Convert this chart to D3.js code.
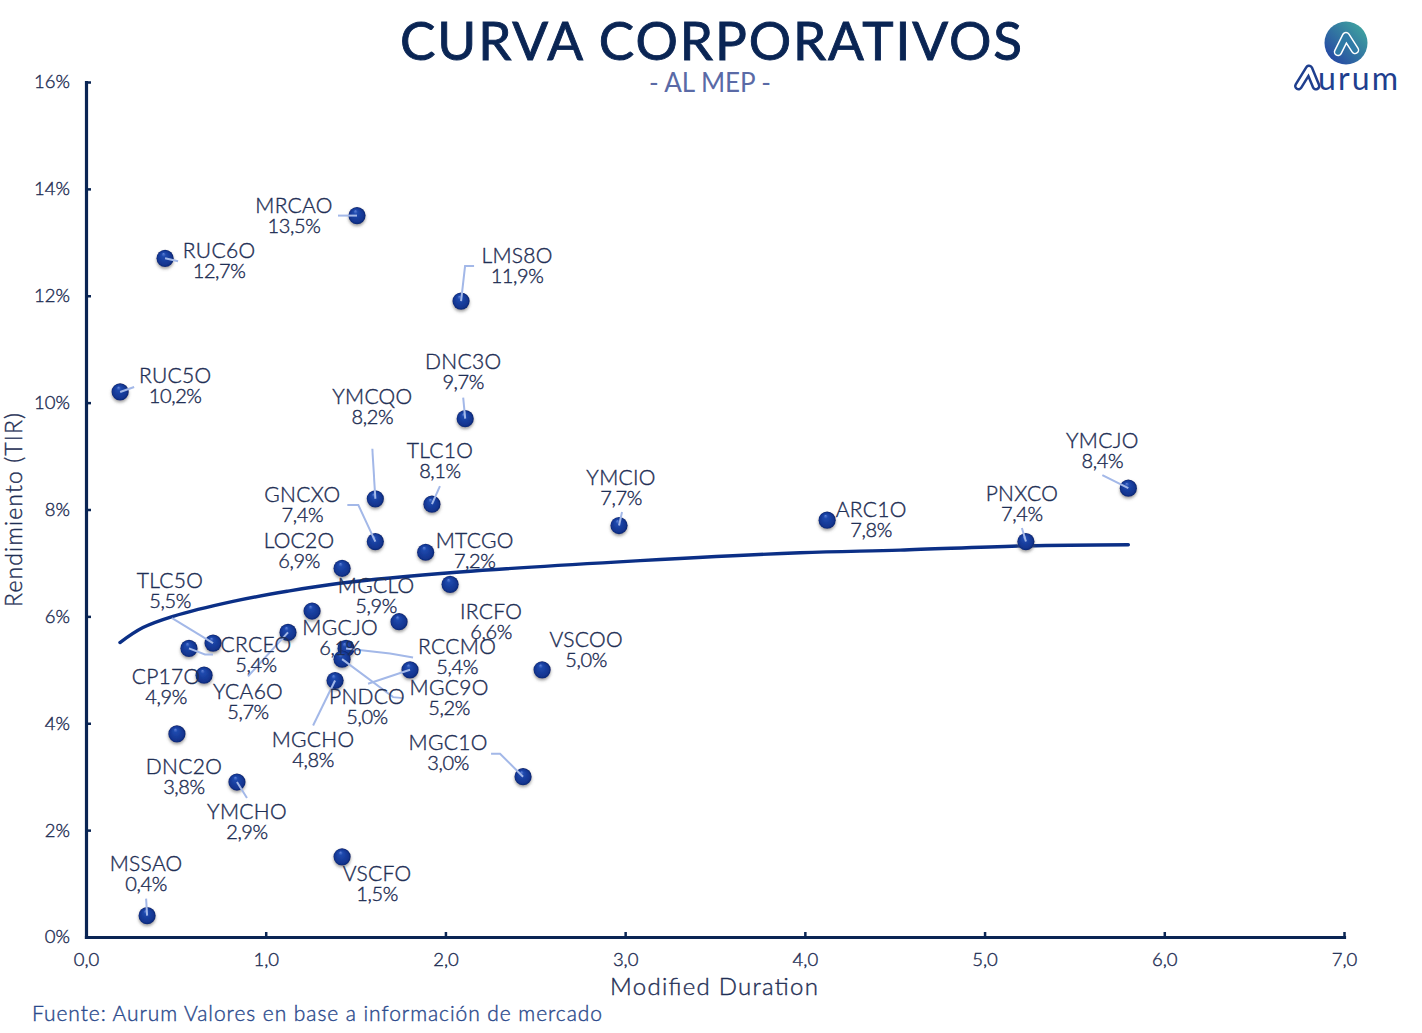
<!DOCTYPE html>
<html lang="es">
<head>
<meta charset="utf-8">
<script src="https://cdn.jsdelivr.net/npm/d3@7"></script>
<style>
  html, body { margin: 0; padding: 0; background: #fff; }
  svg { display: block; font-family: Lato, "Open Sans", sans-serif; }
</style>
</head>
<body>
<svg id="chart" width="1422" height="1033"></svg>
<script>
// Bonds: ticker, modified duration and yield (%)
const tickers = ["MRCAO","RUC6O","LMS8O","RUC5O","DNC3O","YMCQO","TLC1O","YMCIO","ARC1O","PNXCO","YMCJO","GNCXO","MTCGO","LOC2O","IRCFO","MGCLO","MGCJO","YCA6O","TLC5O","CRCEO","CP17O","DNC2O","YMCHO","RCCMO","MGC9O","PNDCO","MGCHO","VSCOO","MGC1O","VSCFO","MSSAO"];
const durations = [1.508,0.44,2.087,0.19,2.11,1.61,1.925,2.966,4.124,5.23,5.80,1.61,1.89,1.425,2.026,1.742,1.258,1.124,0.707,0.573,0.657,0.506,0.84,1.447,1.425,1.803,1.386,2.538,2.432,1.425,0.34];
const yields = [13.5,12.7,11.9,10.2,9.7,8.2,8.1,7.7,7.8,7.4,8.4,7.4,7.2,6.9,6.6,5.9,6.1,5.7,5.5,5.4,4.9,3.8,2.9,5.4,5.2,5.0,4.8,5.0,3.0,1.5,0.4];

// Fitted curve as read along its length
const curveDurations = [0.189,0.317,0.484,0.818,1.119,1.413,2.081,2.966,3.973,4.53,5.23,5.80];
const curveYields = [5.51,5.79,6.0,6.28,6.47,6.62,6.83,7.02,7.19,7.24,7.32,7.34];

const xTicks = [0,1,2,3,4,5,6,7];
const yTicks = [0,2,4,6,8,10,12,14,16];

// Label placement, in pixels from each mark, kept in ticker order
const labelOffsets = [[-63,-10],[54,-8],[56,-46],[55,-16],[-2,-57],[-3,-102],[8,-54],[2,-48.5],[44,-11],[-4,-48.5],[-26,-48],[-73,-47.5],[49,-12],[-43,-28],[41,27],[-23,-36],[28,16],[-40,59],[-43,-63],[67,-4],[-38,1],[7,33],[10,29],[111,-2],[107,28],[-43,27],[-22,59],[44,-30],[-75,-34],[35,17],[-1,-52]];
const leaderBends = [[[-19,0]],[[13,3]],[[13,-35],[4,-35]],[[14,-5]],[[-2,-21]],[[-3,-50]],[[8,-18]],[[3,-13.5]],[],[[-4,-13.5]],[[-26,-13]],[[-28,-36.5],[-17,-36.5]],[],[],[],[],[],[[-40,44]],[[-41,-25]],[[24,6],[16,6]],[],[],[[10,16]],[[67,9],[44,5]],[[61,39],[51,38]],[[-42,14]],[[-22,45]],[],[[-32,-23],[-23,-23]],[],[[-1,-17]]];

const navy = "#0a2554", ink = "#1f2f55", lineBlue = "#0b2f86", leaderBlue = "#a3b8e8";

const svg = d3.select("#chart");
const defs = svg.append("defs");

// Glossy sphere fill for the markers
const ball = defs.append("radialGradient").attr("id","ball")
  .attr("cx","50%").attr("cy","55%").attr("r","55%").attr("fx","40%").attr("fy","22%");
[[0,"#5f82d8"],[0.22,"#1f49ad"],[0.75,"#12348f"],[1,"#0a1f5e"]].forEach(([o,c]) =>
  ball.append("stop").attr("offset",o).attr("stop-color",c));
const shadow = defs.append("filter").attr("id","ballShadow")
  .attr("x","-50%").attr("y","-50%").attr("width","200%").attr("height","200%");
shadow.append("feDropShadow").attr("dx",0).attr("dy",2).attr("stdDeviation",1.8)
  .attr("flood-color","#555").attr("flood-opacity",0.55);

const logoFill = defs.append("linearGradient").attr("id","logoFill")
  .attr("x1","10%").attr("y1","90%").attr("x2","90%").attr("y2","10%");
logoFill.append("stop").attr("offset",0).attr("stop-color","#2546a4");
logoFill.append("stop").attr("offset",1).attr("stop-color","#3fa39f");

const x = d3.scaleLinear().domain([0,7]).range([86,1344]);
const y = d3.scaleLinear().domain([0,16]).range([937,82]);
const decimal = d3.formatLocale({decimal:",",thousands:".",grouping:[3],currency:["$",""]});

// Light type thickened a touch for the labels and axes
const thin = sel => sel.attr("font-weight",300).attr("stroke",ink).attr("stroke-width",0.4);

// Axes with short inward ticks
const xAxis = svg.append("g").attr("transform",`translate(0,${y(0)})`)
  .call(d3.axisBottom(x).tickValues(xTicks).tickFormat(decimal.format(".1f")).tickSize(-5).tickPadding(16).tickSizeOuter(0));
const yAxis = svg.append("g").attr("transform",`translate(${x(0)},0)`)
  .call(d3.axisLeft(y).tickValues(yTicks).tickFormat(d => d + "%").tickSize(-5).tickPadding(16).tickSizeOuter(0));
[xAxis,yAxis].forEach(a => {
  a.select(".domain").attr("stroke",navy).attr("stroke-width",3.2).attr("stroke-linecap","square");
  a.selectAll(".tick line").attr("stroke",navy).attr("stroke-width",2.5);
  a.selectAll(".tick text").attr("fill",ink).attr("font-family","Lato, sans-serif").attr("font-size",18.5).call(thin);
});

// Fitted curve
const curvePoints = d3.zip(curveDurations,curveYields);
svg.append("path").datum(curvePoints)
  .attr("fill","none").attr("stroke",lineBlue).attr("stroke-width",3.4).attr("stroke-linecap","round")
  .attr("d",d3.line().x(d => x(d[0])).y(d => y(d[1])).curve(d3.curveCatmullRom.alpha(0.5)));

const bonds = tickers.map((t,i) => ({ticker:t, dur:durations[i], yld:yields[i], off:labelOffsets[i], bend:leaderBends[i]}));

// Markers first, then leaders and text above them
svg.append("g").selectAll("circle").data(bonds).join("circle")
  .attr("cx",d => x(d.dur)).attr("cy",d => y(d.yld)).attr("r",8.6)
  .attr("fill","url(#ball)").attr("filter","url(#ballShadow)");

svg.append("g").selectAll("path").data(bonds.filter(d => d.bend.length)).join("path")
  .attr("fill","none").attr("stroke",leaderBlue).attr("stroke-width",2)
  .attr("d",d => d3.line()([...d.bend.map(([dx,dy]) => [x(d.dur)+dx,y(d.yld)+dy]),[x(d.dur),y(d.yld)]]));

const labels = svg.append("g").attr("text-anchor","middle").attr("fill",ink).call(thin)
  .selectAll("g").data(bonds).join("g")
  .attr("transform",d => `translate(${x(d.dur)+d.off[0]},${y(d.yld)+d.off[1]})`);
labels.append("text").attr("y",7.5).attr("font-size",21).attr("letter-spacing",0.3).text(d => d.ticker);
labels.append("text").attr("y",27.5).attr("font-size",20).attr("letter-spacing",-0.4).text(d => decimal.format(".1f")(d.yld) + "%");

// Headings and axis titles
svg.append("text").attr("x",711).attr("y",60).attr("text-anchor","middle")
  .attr("font-size",53).attr("font-weight",400).attr("fill",navy).attr("stroke",navy).attr("stroke-width",0.9)
  .attr("textLength",622).attr("lengthAdjust","spacing").text("CURVA CORPORATIVOS");
svg.append("text").attr("x",710).attr("y",92).attr("text-anchor","middle")
  .attr("font-size",26).attr("fill","#5a6aa6").attr("textLength",122).text("- AL MEP -");
svg.append("text").attr("x",714).attr("y",995).attr("text-anchor","middle")
  .attr("font-size",24).attr("fill",ink).call(thin).attr("textLength",208).text("Modified Duration");
svg.append("text").attr("transform","translate(22,510) rotate(-90)").attr("text-anchor","middle")
  .attr("font-size",23).attr("fill",ink).call(thin).attr("textLength",194).text("Rendimiento (TIR)");
svg.append("text").attr("x",32).attr("y",1021)
  .attr("font-size",21).attr("fill","#2b4a8c").call(thin).attr("stroke","#2b4a8c").attr("textLength",570).text("Fuente: Aurum Valores en base a información de mercado");

// Company logo: gradient badge with an outlined peak, and the wordmark
const logo = svg.append("g");
logo.append("circle").attr("cx",1346).attr("cy",43).attr("r",21.5).attr("fill","url(#logoFill)");
const peak = "M1338 52 L1346 36 L1355 50";
logo.append("path").attr("d",peak).attr("fill","none").attr("stroke","#fff").attr("stroke-width",8.5)
  .attr("stroke-linecap","round").attr("stroke-linejoin","round");
logo.append("path").attr("d",peak).attr("fill","none").attr("stroke","#2f7aa6").attr("stroke-width",5.5)
  .attr("stroke-linecap","round").attr("stroke-linejoin","round");
const markA = "M1298.5 86 L1309 69 L1316 86";
logo.append("path").attr("d",markA).attr("fill","none").attr("stroke","#1f3f8e").attr("stroke-width",9)
  .attr("stroke-linecap","round").attr("stroke-linejoin","round");
logo.append("path").attr("d",markA).attr("fill","none").attr("stroke","#fff").attr("stroke-width",4)
  .attr("stroke-linecap","round").attr("stroke-linejoin","round");
logo.append("text").attr("x",1318).attr("y",90).attr("font-size",32).attr("fill","#1f3f8e")
  .attr("textLength",80).text("urum");
</script>
</body>
</html>
